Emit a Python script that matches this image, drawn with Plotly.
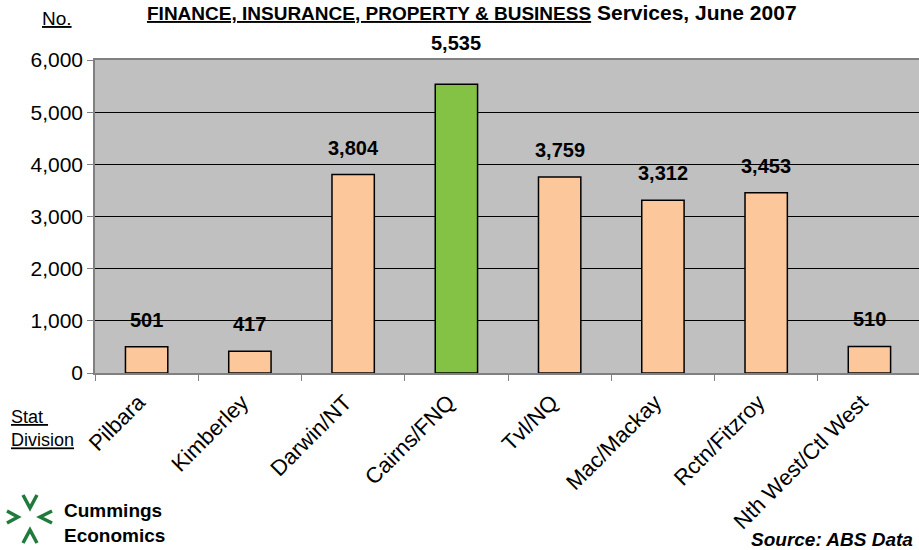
import plotly.graph_objects as go

divisions = ["Pilbara", "Kimberley", "Darwin/NT", "Cairns/FNQ", "Tvl/NQ",
             "Mac/Mackay", "Rctn/Fitzroy", "Nth West/Ctl West"]
employed = [501, 417, 3804, 5535, 3759, 3312, 3453, 510]
highlight = "Cairns/FNQ"

W, H = 919, 550
L, R, T, B = 95, 0, 60, 177


def px(x, y):
    # pixel position -> paper coords
    return (x - L) / (W - L - R), (H - B - y) / (H - T - B)


colors = ["#84C246" if d == highlight else "#FCC89B" for d in divisions]

fig = go.Figure(go.Bar(
    x=divisions,
    y=employed,
    width=0.41,
    marker=dict(color=colors, line=dict(color="black", width=1.5)),
))

font = "Liberation Sans, Arial, sans-serif"

for d, v in zip(divisions, employed):
    fig.add_annotation(
        x=d, y=v, text=f"<b>{v:,}</b>", showarrow=False,
        yshift=41 if d == highlight else 27,
        font=dict(size=20, color="black", family=font),
    )


def note(x, y, text, size, align="left"):
    u, v = px(x, y)
    fig.add_annotation(x=u, y=v, xref="paper", yref="paper",
                       xanchor="left", yanchor="middle", align=align,
                       showarrow=False, text=text,
                       font=dict(size=size, color="black", family=font))


# title and captions
note(145, 12, "<b><u>FINANCE, INSURANCE, PROPERTY &amp; BUSINESS</u>"
              "<span style='font-size:21px'> Services, June 2007</span></b>", 19)
note(40, 19, "<u>No.</u>", 19)
note(9, 428, "<u>Stat </u><br><u>Division</u>", 18)
note(62, 523, "<b>Cummings<br>Economics</b>", 19)
note(749, 539, "<b><i>Source: ABS Data</i></b>", 19)

# logo chevrons
chevrons = [
    [(7, 511), (18, 517), (7, 523)],
    [(52, 511), (40, 517), (52, 523)],
    [(23, 495), (30, 508), (37, 495)],
    [(23, 543), (30, 530), (37, 543)],
]
for pts in chevrons:
    path = ""
    for i, (a, b) in enumerate(pts):
        u, v = px(a, b)
        path += ("M" if i == 0 else "L") + f"{u},{v} "
    fig.add_shape(type="path", path=path, xref="paper", yref="paper",
                  line=dict(color="#1F7A3C", width=3.5))

fig.update_layout(
    width=W, height=H,
    margin=dict(l=L, r=R, t=T, b=B, autoexpand=False),
    plot_bgcolor="#C0C0C0",
    paper_bgcolor="white",
    showlegend=False,
    font=dict(family=font, size=17, color="black"),
)
fig.update_xaxes(
    range=[-0.5, 7.48],
    showline=True, linecolor="#808080", linewidth=1.5, mirror=True,
    ticks="outside", tickson="boundaries", tickcolor="#808080", ticklen=6,
    tickangle=-45, tickfont=dict(size=22), showgrid=False,
    ticklabelstandoff=6, ticklabelshift=-8,
)
fig.update_yaxes(
    range=[0, 6000], dtick=1000, tickformat=",",
    showline=True, linecolor="#808080", linewidth=1.5,
    ticks="outside", tickcolor="#808080", ticklen=6,
    gridcolor="black", gridwidth=1, zeroline=False,
    tickfont=dict(size=21),
)

fig.write_html("out.html", config={"displayModeBar": False},
               post_script="document.body.style.margin='0';")
